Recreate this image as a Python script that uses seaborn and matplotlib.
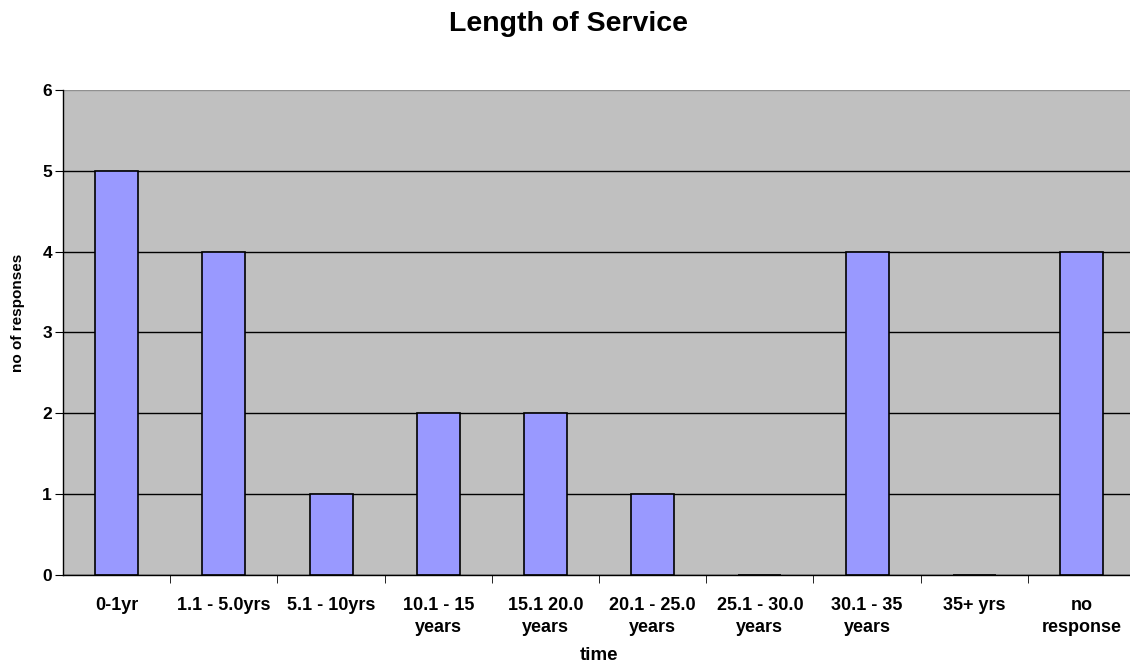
import matplotlib.pyplot as plt
import seaborn as sns
import numpy as np

# Data
categories = ['0-1yr', '1.1 - 5.0yrs', '5.1 - 10yrs', '10.1 - 15\nyears', '15.1 20.0\nyears',
              '20.1 - 25.0\nyears', '25.1 - 30.0\nyears', '30.1 - 35\nyears', '35+ yrs', 'no\nresponse']
responses = [5, 4, 1, 2, 2, 1, 0, 4, 0, 4]

plt.rcParams['font.family'] = ['Liberation Sans', 'DejaVu Sans']

fig = plt.figure(figsize=(11.3, 6.71), dpi=100)
ax = fig.add_axes([0.0558, 0.1431, 0.9487, 0.7228])
ax.set_facecolor('#C0C0C0')
ax.set_axisbelow(True)

sns.barplot(x=categories, y=responses, color='#9999FF', edgecolor='black',
            linewidth=1.2, width=0.4, saturation=1, ax=ax)

ax.set_xlim(-0.5, len(categories) - 0.5)
ax.set_ylim(0, 6)
ax.set_yticks(range(0, 7))
ax.yaxis.grid(True, color='black', linewidth=1)
ax.xaxis.grid(False)
ax.get_ygridlines()[-1].set_color('#909090')

# category separator ticks
ax.set_xticks(np.arange(len(categories)))
ax.set_xticklabels(categories, fontsize=13, fontweight='bold', linespacing=1.35)
ax.tick_params(axis='x', length=0, pad=16)
ax.set_xticks(np.arange(0.5, len(categories) - 0.5), minor=True)
ax.tick_params(axis='x', which='minor', length=6, color='black', direction='out')
ax.tick_params(axis='y', length=6, color='black', labelsize=12.5, pad=2)
for lbl in ax.get_yticklabels():
    lbl.set_fontweight('bold')

for side in ['top', 'right']:
    ax.spines[side].set_visible(False)
for side in ['left', 'bottom']:
    ax.spines[side].set_color('black')
    ax.spines[side].set_linewidth(1)

ax.set_ylabel('no of responses', fontsize=11, fontweight='bold')
ax.yaxis.set_label_coords(-0.0355, 0.54)
ax.set_xlabel('time', fontsize=13.5, fontweight='bold', labelpad=8)
fig.text(0.5027, 1 - 24 / 671, 'Length of Service', fontsize=20.5, fontweight='bold',
         ha='center', va='center')

fig.savefig('out.png', dpi=100)
